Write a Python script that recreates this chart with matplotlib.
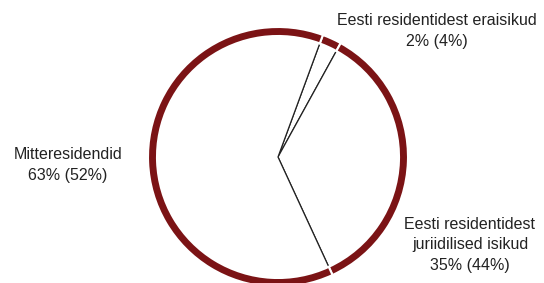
import matplotlib.pyplot as plt
import matplotlib.font_manager as fm

# osakaalud (mõõdetud joonise nurkadest), siltide tekstid
shares = [2.4, 35.1, 62.5]
names = ['Eesti residentidest eraisikud',
         'Eesti residentidest\njuriidilised isikud',
         'Mitteresidendid']
pct_labels = ['2% (4%)', '35% (44%)', '63% (52%)']

families = [f.name for f in fm.fontManager.ttflist]
font = 'Liberation Sans Narrow' if 'Liberation Sans Narrow' in families else 'Liberation Sans'
plt.rcParams['font.family'] = [font, 'DejaVu Sans']

W, H = 544, 283
fig = plt.figure(figsize=(W / 100, H / 100), dpi=100)
ax = fig.add_axes([0, 0, 1, 1])

cx, cy, r = 278, H - 157, 130
start = 90 - 20.2

# valged sektorid mustade raadiustega
ax.pie(shares, colors=['white'] * 3, radius=r - 6, center=(cx, cy),
       startangle=start, counterclock=False, frame=True,
       wedgeprops=dict(edgecolor='#222222', linewidth=0.9))
# tumepunane välisrõngas
ax.pie(shares, colors=['#7b1315'] * 3, radius=r, center=(cx, cy),
       startangle=start, counterclock=False, frame=True,
       wedgeprops=dict(width=9, edgecolor='white', linewidth=1.5))
ax.set_xlim(0, W)
ax.set_ylim(0, H)
ax.set_aspect('equal')
ax.axis('off')

txt = dict(ha='center', va='center', fontsize=11.5, color='#222222', linespacing=1.45)
ax.text(437, H - 31, names[0] + '\n' + pct_labels[0], **txt)
ax.text(470, H - 245, names[1] + '\n' + pct_labels[1], **txt)
ax.text(68, H - 165, names[2] + '\n' + pct_labels[2], **txt)

fig.savefig('out.png', dpi=100)
